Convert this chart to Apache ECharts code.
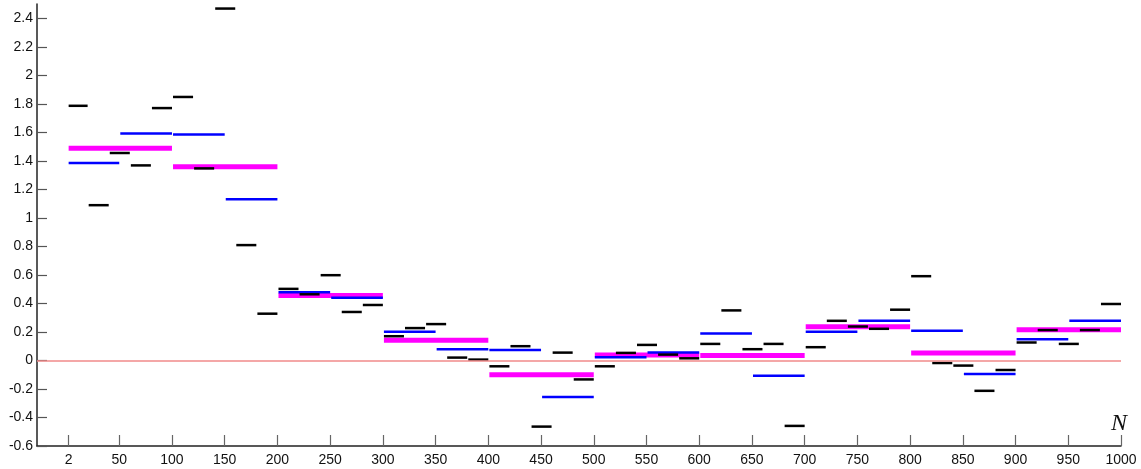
<!DOCTYPE html>
<html>
<head>
<meta charset="utf-8">
<script src="https://cdn.jsdelivr.net/npm/echarts@6/dist/echarts.min.js"></script>
<style>
  html, body { margin: 0; padding: 0; background: #fff; }
  #chart { width: 1141px; height: 469px; }
</style>
</head>
<body>
<div id="chart"></div>
<script>
// Bin averages over N: 20-wide bins (black), 50-wide bins (blue), 100-wide bins (magenta)
const xTicks = [2, 50, 100, 150, 200, 250, 300, 350, 400, 450, 500, 550, 600, 650, 700, 750, 800, 850, 900, 950, 1000];
const yTicks = [-0.6, -0.4, -0.2, 0, 0.2, 0.4, 0.6, 0.8, 1, 1.2, 1.4, 1.6, 1.8, 2, 2.2, 2.4];

const bin20 = [
  1.786, 1.089, 1.455, 1.368, 1.770,
  1.848, 1.347, 2.468, 0.809, 0.328,
  0.502, 0.464, 0.598, 0.340, 0.389,
  0.170, 0.227, 0.255, 0.020, 0.006,
  -0.041, 0.100, -0.464, 0.055, -0.133,
  -0.041, 0.053, 0.109, 0.041, 0.015,
  0.116, 0.351, 0.079, 0.116, -0.459,
  0.093, 0.278, 0.238, 0.222, 0.356,
  0.591, -0.018, -0.036, -0.213, -0.067,
  0.126, 0.213, 0.116, 0.213, 0.396
];
const bin50 = [
  1.385, 1.591, 1.584, 1.131,
  0.478, 0.440, 0.201, 0.079,
  0.074, -0.257, 0.023, 0.055,
  0.189, -0.107, 0.201, 0.278,
  0.208, -0.095, 0.149, 0.278
];
const bin100 = [1.488, 1.359, 0.455, 0.142, -0.100, 0.039, 0.034, 0.236, 0.053, 0.215];

const nStart = 2;

// [from, to, value] triples: each bin covers (k*w, (k+1)*w], the first one starts at N = 2
function binRows(values, w) {
  return values.map((v, k) => [k === 0 ? nStart : k * w + 1, (k + 1) * w, v]);
}

function segmentSeries(values, w, color, width, z) {
  return {
    type: 'custom',
    z: z,
    clip: false,
    data: binRows(values, w),
    encode: { x: [0, 1], y: 2 },
    renderItem: function (params, api) {
      const a = api.coord([api.value(0), api.value(2)]);
      const b = api.coord([api.value(1), api.value(2)]);
      return {
        type: 'line',
        shape: { x1: a[0], y1: a[1], x2: b[0], y2: b[1] },
        style: { stroke: color, lineWidth: width, lineCap: 'butt' }
      };
    }
  };
}

const chart = echarts.init(document.getElementById('chart'), null, { renderer: 'canvas' });

const labelFont = { fontFamily: 'Liberation Sans, Arial, sans-serif', fontSize: 14, color: '#111' };

chart.setOption({
  animation: false,
  backgroundColor: '#fff',
  grid: { left: 37, right: 20, top: 4, bottom: 23, containLabel: false },
  xAxis: {
    type: 'value',
    min: -28,
    max: 1000,
    splitLine: { show: false },
    axisLine: { show: true, onZero: false, lineStyle: { color: '#222', width: 1.5 } },
    axisTick: { show: true, inside: true, length: 11, customValues: xTicks, lineStyle: { color: '#666', width: 1.2 } },
    axisLabel: Object.assign({
      customValues: xTicks, margin: 7, showMinLabel: true, showMaxLabel: true,
      formatter: v => String(v)
    }, labelFont)
  },
  yAxis: {
    type: 'value',
    min: -0.6,
    max: 2.5,
    interval: 0.2,
    splitLine: { show: false },
    axisLine: { show: true, onZero: false, lineStyle: { color: '#222', width: 1.5 } },
    axisTick: { show: true, inside: true, length: 10, customValues: yTicks, lineStyle: { color: '#555', width: 1.2 } },
    axisLabel: Object.assign({ customValues: yTicks, margin: 4, formatter: v => String(Math.round(v * 10) / 10) }, labelFont)
  },
  graphic: [{
    type: 'text',
    left: 1111,
    top: 412,
    style: { text: 'N', font: 'italic 24px "Liberation Serif", "Times New Roman", serif', fill: '#111' }
  }],
  series: [
    {
      type: 'line',
      data: [],
      z: 1,
      markLine: {
        silent: true,
        symbol: ['none', 'none'],
        label: { show: false },
        lineStyle: { color: '#f08a8a', width: 1.5, type: 'solid' },
        data: [{ yAxis: 0 }]
      }
    },
    segmentSeries(bin100, 100, '#ff00ff', 5, 2),
    segmentSeries(bin50, 50, '#0000ff', 2.5, 3),
    segmentSeries(bin20, 20, '#000000', 2.5, 4)
  ]
});
</script>
</body>
</html>
